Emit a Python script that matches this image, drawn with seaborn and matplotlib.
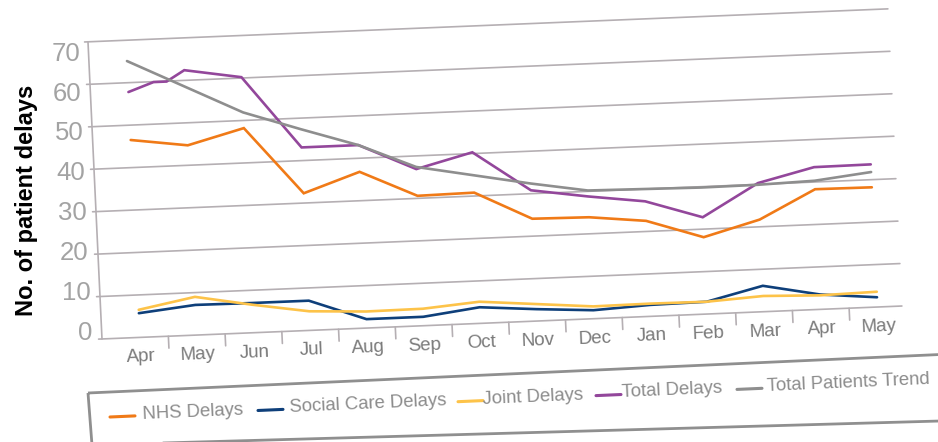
import matplotlib
matplotlib.use("Agg")
import matplotlib.pyplot as plt
from matplotlib.transforms import Affine2D
from matplotlib.patches import Polygon
import seaborn as sns
import pandas as pd

# ---------------- data ----------------
months = ["Apr", "May", "Jun", "Jul", "Aug", "Sep", "Oct",
          "Nov", "Dec", "Jan", "Feb", "Mar", "Apr", "May"]
nhs_delays = [46.5, 44.7, 48.2, 32.3, 36.8, 30.6, 30.8, 24.1, 23.9, 22.5, 18.1, 21.7, 28.3, 28.2]
social_care_delays = [5.7, 7.1, 7.0, 7.0, 2.1, 2.1, 3.8, 2.8, 2.0, 2.7, 2.9, 6.1, 3.5, 2.3]
joint_delays = [6.5, 9.0, 6.6, 4.5, 3.9, 4.0, 5.1, 4.0, 2.9, 3.0, 2.9, 3.7, 3.3, 3.6]
total_delays = [57.8, 62.4, 60.2, 43.1, 43.1, 36.9, 40.3, 30.8, 28.8, 27.1, 22.8, 30.3, 33.5, 33.6]
# small step in the purple line between Apr and May
total_step_pos = [0.45, 0.68]
total_step_val = [59.9, 59.9]
total_patients_trend = [65.1, 58.5, 51.9, 47.4, 43.1, 37.4, 34.9, 32.4, 30.2, 30.0, 29.8, 29.9, 30.3, 31.8]
y_ticks = [0, 10, 20, 30, 40, 50, 60, 70]

series_names = ["NHS Delays", "Social Care Delays", "Joint Delays", "Total Delays", "Total Patients Trend"]
colours = ["#F07A17", "#0E3F7A", "#FDC349", "#93479B", "#8E8E8E"]

rows = []
for name, vals in zip(series_names, [nhs_delays, social_care_delays, joint_delays,
                                     total_delays, total_patients_trend]):
    for i, v in enumerate(vals):
        rows.append({"pos": float(i), "value": v, "series": name})
for p, v in zip(total_step_pos, total_step_val):
    rows.append({"pos": p, "value": v, "series": "Total Delays"})
df = pd.DataFrame(rows)

# ---------------- figure ----------------
sns.set_theme(style="white")
plt.rcParams["font.family"] = ["Liberation Sans", "DejaVu Sans"]

W, H = 938, 442
fig = plt.figure(figsize=(W / 100, H / 100), dpi=100)
ax = fig.add_axes([0, 0, 1, 1])
ax.set_axis_off()

# image pixel coords (y down) -> figure
img_tf = Affine2D().scale(1 / W, -1 / H).translate(0, 1) + fig.transFigure
# chart is seen at a slant: (month index, value) -> image pixels
slant = Affine2D([[56.73, -0.2, 140.0],
                  [-2.337, -4.245, 337.4],
                  [0, 0, 1]])
data_tf = slant + img_tf

grid_c = "#B5AFB3"
x_left, x_right = -0.67, 13.43

for v in y_ticks:
    ax.plot([x_left - 0.06, x_right], [v, v], color=grid_c, lw=1.2, transform=data_tf, clip_on=False)
ax.plot([x_left, x_left], [0, 70], color=grid_c, lw=1.2, transform=data_tf, clip_on=False)
for k in range(len(months) - 1):
    ax.plot([k + 0.5, k + 0.5], [0, -2.8], color=grid_c, lw=1.2, transform=data_tf, clip_on=False)

n_before = len(ax.lines)
sns.lineplot(data=df, x="pos", y="value", hue="series", hue_order=series_names,
             palette=colours, estimator=None, sort=True, legend=False, lw=1.9, ax=ax)
for line in ax.lines[n_before:]:
    line.set_transform(data_tf)
    line.set_clip_on(False)
    line.set_solid_joinstyle("miter")

# month labels
for i, m in enumerate(months):
    ax.text(i, -4.7, m, transform=data_tf, rotation=2.4, rotation_mode="anchor",
            ha="center", va="center", fontsize=13.5, color="#7A7A7A")

# value labels on the left
for v in y_ticks:
    ax.text(92 - 0.17 * v, 333 - 3.99 * v, str(v), transform=img_tf,
            ha="right", va="center", fontsize=18.5, color="#A3A3A3")

ax.text(27, 200, "No. of patient delays", transform=img_tf, rotation=90,
        ha="center", va="center", fontsize=17, fontweight="bold", color="black")

# legend box, slanted like the chart
box = Polygon([(88, 393), (940, 354.5), (940, 421), (92, 445)], closed=True,
              fill=False, edgecolor="#8F8F8F", lw=2, transform=img_tf, clip_on=False)
ax.add_patch(box)

def leg_y(x):
    return 417 - 0.044 * (x - 110)

line_lefts = [110, 258, 458, 596, 737]
text_lefts = [143, 290, 483, 622, 767]
for name, c, xl, xt in zip(series_names, colours, line_lefts, text_lefts):
    ax.plot([xl, xl + 25], [leg_y(xl), leg_y(xl + 25)], color=c, lw=2.2,
            transform=img_tf, clip_on=False)
    ax.text(xt, leg_y(xt) - 1.5, name, transform=img_tf, rotation=2.5, rotation_mode="anchor",
            ha="left", va="center", fontsize=13.3, color="#8C8C8C")

fig.savefig("out.png", dpi=100)
